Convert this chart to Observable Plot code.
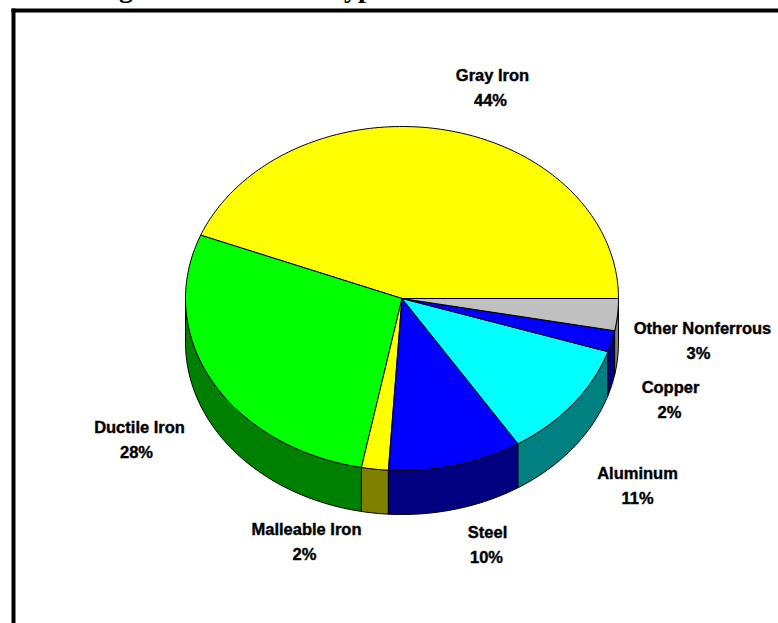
<!DOCTYPE html>
<html>
<head>
<meta charset="utf-8">
<script src="https://cdn.jsdelivr.net/npm/d3@7"></script>
<script src="https://cdn.jsdelivr.net/npm/@observablehq/plot@0.6"></script>
<style>
  html, body { margin: 0; padding: 0; background: #fff; overflow: hidden; }
  #title { position: absolute; left: 0; top: 0; width: 778px; height: 8px; overflow: hidden;
           font: bold 28px/28px "Liberation Serif", serif; color: #000; z-index: 2; }
  #title span { position: absolute; top: -26px; }
  svg { display: block; }
  svg text { font-family: "Liberation Sans", Arial, sans-serif; }
</style>
</head>
<body>
<div id="title"></div>
<div id="chart"></div>
<script>
// Data
const categories = ["Gray Iron", "Ductile Iron", "Malleable Iron", "Steel", "Aluminum", "Copper", "Other Nonferrous"];
const values = [44, 28, 2, 10, 11, 2, 3];
const topColors = ["#ffff00", "#00ff00", "#ffff00", "#0000ff", "#00ffff", "#0000ff", "#c0c0c0"];
const sideColors = ["#808000", "#008000", "#808000", "#000080", "#008080", "#000080", "#808080"];
// Only these letters of the cropped title can be read in the reference
const titleFragments = ["g", "yp"];

// Layout
const W = 778, H = 623;
const cx = 401.5, cy = 298, rx = 216.5, ry = 172, depthPx = 44;
const mLeft = 13, mTop = 10;
const depth = depthPx / ry;
const titleLeft = [119, 344];

// Where each slice's label sits, in pixels: [name x, name y, percent x, percent y]
const labelTargets = {
  "Gray Iron": [492, 75, 490, 100],
  "Ductile Iron": [139, 427, 136, 452],
  "Malleable Iron": [306, 529, 304, 554],
  "Steel": [487, 532, 486, 557],
  "Aluminum": [637, 473, 637, 498],
  "Copper": [670, 387, 669, 412],
  "Other Nonferrous": [702, 328, 698, 353]
};

// Pie geometry derived from the values
const total = d3.sum(values);
let acc = 0;
const slices = categories.map((name, i) => {
  const a0 = acc / total * 2 * Math.PI;
  acc += values[i];
  const a1 = acc / total * 2 * Math.PI;
  return {name, value: values[i], a0, a1, top: topColors[i], side: sideColors[i]};
});
const arcAngles = (a0, a1) => {
  const n = Math.max(2, Math.ceil((a1 - a0) / (Math.PI / 180)));
  return d3.range(n + 1).map(k => a0 + (a1 - a0) * k / n);
};
const topPts = slices.flatMap(s => {
  const rim = arcAngles(s.a0, s.a1).map(a => ({x: Math.cos(a), y: Math.sin(a)}));
  return [{x: 0, y: 0}, ...rim, {x: 0, y: 0}].map(p => ({...p, key: s.name, fill: s.top}));
});
const sidePts = slices.flatMap(s => {
  const lo = Math.max(s.a0, Math.PI), hi = s.a1;
  if (hi <= lo) return [];
  const rim = arcAngles(lo, hi).map(a => ({x: Math.cos(a), y: Math.sin(a)}));
  const low = rim.slice().reverse().map(p => ({x: p.x, y: p.y - depth}));
  return [...rim, ...low, rim[0]].map(p => ({...p, key: s.name, fill: s.side}));
});

const labelMarks = slices.flatMap(s => {
  const mid = (s.a0 + s.a1) / 2;
  const rim = [{x: Math.cos(mid), y: Math.sin(mid)}];
  const px = cx + rx * rim[0].x, py = cy - ry * rim[0].y;
  const t = labelTargets[s.name];
  const common = {x: "x", y: "y", fontSize: 16.5, fontWeight: 700, fill: "#000",
                  stroke: "#000", strokeWidth: 0.4, textAnchor: "middle", lineAnchor: "middle"};
  return [
    Plot.text(rim, {...common, text: () => s.name, dx: t[0] - px, dy: t[1] - py}),
    Plot.text(rim, {...common, text: () => s.value + "%", dx: t[2] - px, dy: t[3] - py})
  ];
});

const chart = Plot.plot({
  width: W, height: H,
  marginLeft: mLeft, marginTop: mTop, marginRight: 0, marginBottom: 0,
  style: {background: "#fff", overflow: "hidden"},
  x: {axis: null, domain: [(mLeft - cx) / rx, (W - cx) / rx]},
  y: {axis: null, domain: [(cy - H) / ry, (cy - mTop) / ry]},
  color: {type: "identity"},
  marks: [
    Plot.line(sidePts, {x: "x", y: "y", z: "key", fill: "fill", stroke: "#000", strokeWidth: 1, strokeLinejoin: "round"}),
    Plot.line(topPts, {x: "x", y: "y", z: "key", fill: "fill", stroke: "#000", strokeWidth: 1, strokeLinejoin: "round"}),
    ...labelMarks,
    Plot.frame({anchor: "top", stroke: "#000", strokeWidth: 4, strokeLinecap: "square"}),
    Plot.frame({anchor: "left", stroke: "#000", strokeWidth: 4, strokeLinecap: "square"})
  ]
});
document.getElementById("chart").append(chart);

const titleEl = document.getElementById("title");
titleFragments.forEach((t, i) => {
  const sp = document.createElement("span");
  sp.textContent = t;
  sp.style.left = titleLeft[i] + "px";
  titleEl.append(sp);
});
</script>
</body>
</html>
